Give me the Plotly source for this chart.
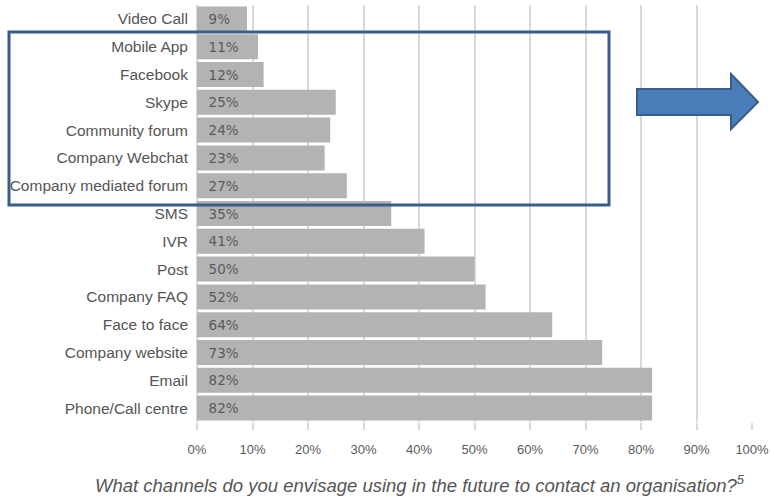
import plotly.graph_objects as go

categories = ["Video Call", "Mobile App", "Facebook", "Skype", "Community forum",
              "Company Webchat", "Company mediated forum", "SMS", "IVR", "Post",
              "Company FAQ", "Face to face", "Company website", "Email", "Phone/Call centre"]
values = [9, 11, 12, 25, 24, 23, 27, 35, 41, 50, 52, 64, 73, 82, 82]
tick_vals = [0, 10, 20, 30, 40, 50, 60, 70, 80, 90, 100]
tick_text = [f"{v}%" for v in tick_vals]
axis_title = "What channels do you envisage using in the future to contact an organisation?<sup>5</sup>"

W, H = 774, 497
L, R, T, B = 197, 22, 5, 75
pw, ph = W - L - R, H - T - B

def px(x):
    return (x - L) / pw

def py(y):
    return (H - B - y) / ph

fig = go.Figure(go.Bar(
    x=values, y=categories, orientation="h",
    marker=dict(color="#b3b3b3", line=dict(width=0)),
    text=["\u00a0\u00a0" + f"{v}%" for v in values], textposition="inside",
    insidetextanchor="start",
    textfont=dict(size=13.5, color="#5a5a5a", family="DejaVu Sans"),
    cliponaxis=False,
))

# blue highlight rectangle
fig.add_shape(type="rect", xref="paper", yref="paper",
              x0=px(9), x1=px(609), y0=py(205), y1=py(32),
              line=dict(color="#385d8a", width=3), fillcolor="rgba(0,0,0,0)", layer="above")
# block arrow
ax0, ax1, ahx = 637, 758, 731
sy0, sy1, hy0, hy1, my = 89, 115, 74, 129, 102
path = (f"M {px(ax0)} {py(sy0)} L {px(ahx)} {py(sy0)} L {px(ahx)} {py(hy0)} "
        f"L {px(ax1)} {py(my)} L {px(ahx)} {py(hy1)} L {px(ahx)} {py(sy1)} "
        f"L {px(ax0)} {py(sy1)} Z")
fig.add_shape(type="path", xref="paper", yref="paper", path=path,
              fillcolor="#4a7ebb", line=dict(color="#385d8a", width=2), layer="above")

fig.add_annotation(text="<i>" + axis_title + "</i>", xref="paper", yref="paper",
                   x=px(420), y=py(484), xanchor="center", yanchor="middle",
                   showarrow=False,
                   font=dict(size=18.5, color="#555555", family="Liberation Sans, Arial"))

fig.update_layout(
    width=W, height=H,
    margin=dict(l=L, r=R, t=T, b=B),
    paper_bgcolor="white", plot_bgcolor="white",
    bargap=0.1,
    showlegend=False,
    font=dict(family="Liberation Sans, Arial", color="#555555"),
    xaxis=dict(range=[0, 100], tickvals=tick_vals, ticktext=tick_text,
               showgrid=True, gridcolor="#d9d9d9", gridwidth=1.5,
               zeroline=True, zerolinecolor="#d9d9d9", zerolinewidth=1.5,
               ticks="outside", ticklen=7, tickcolor="#d9d9d9", tickwidth=1.5,
               tickfont=dict(size=13, color="#5a5a5a"), ticklabelstandoff=8,
               showline=False, fixedrange=True),
    yaxis=dict(autorange="reversed", showgrid=False, zeroline=False,
               tickfont=dict(size=15.5, color="#555555"), ticks="",
               ticklabelstandoff=8, showline=False, fixedrange=True),
)

fig.write_html("out.html")
